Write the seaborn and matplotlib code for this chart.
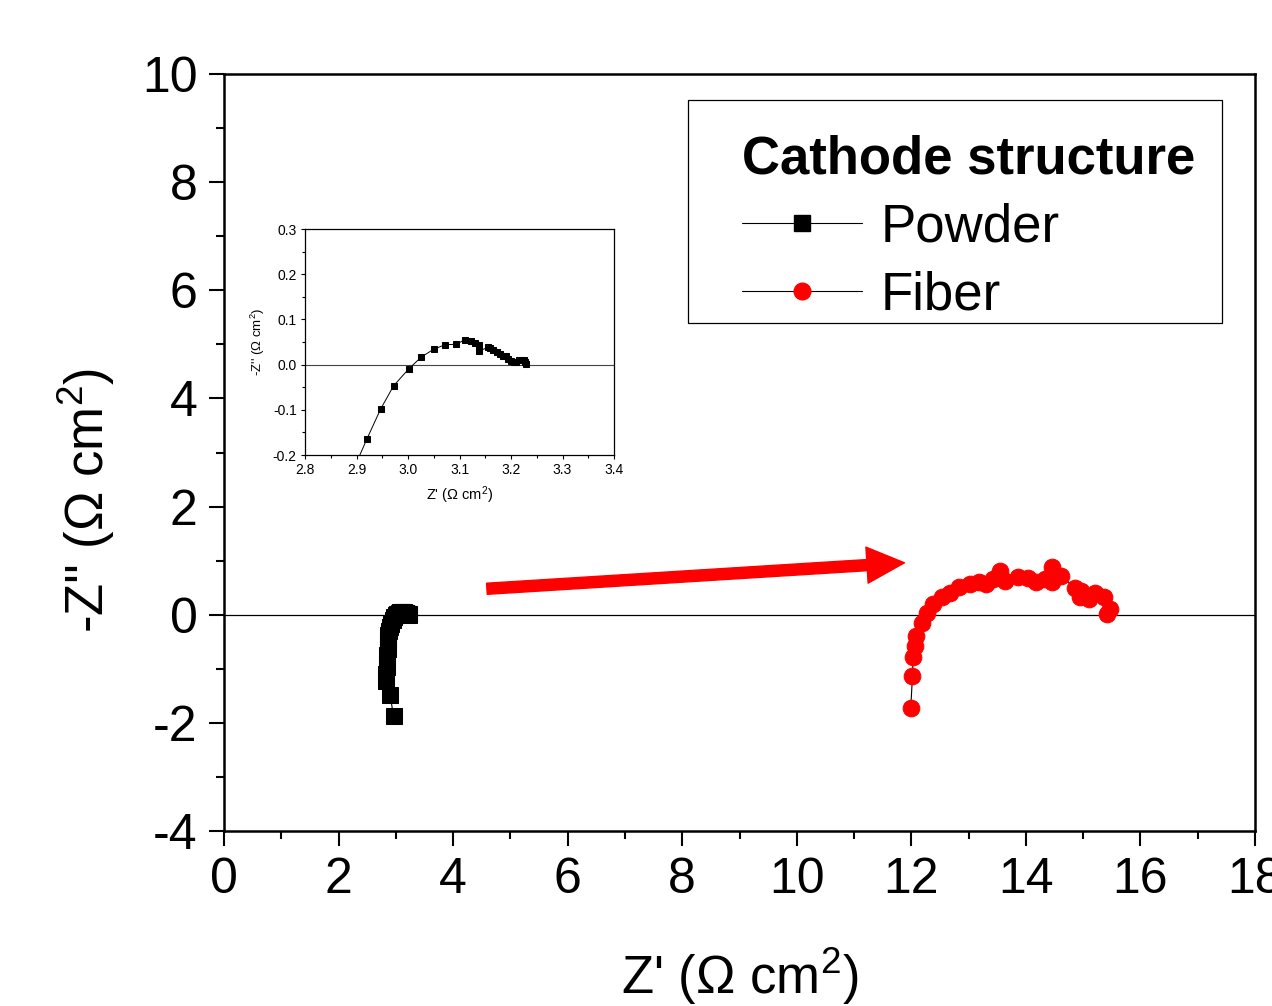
import numpy as np
import pandas as pd
import matplotlib
matplotlib.use("Agg")
import matplotlib.pyplot as plt
import seaborn as sns
from matplotlib.lines import Line2D
from matplotlib.ticker import MultipleLocator

# Powder cathode (Nyquist points, Z' and -Z'')
powder_x = [2.96, 2.90, 2.82, 2.83, 2.84, 2.845, 2.85, 2.855, 2.86, 2.865, 2.87, 2.88, 2.895,
            2.92, 2.947, 2.972, 3.001, 3.026, 3.05, 3.072, 3.094, 3.11, 3.122, 3.13, 3.138,
            3.138, 3.155, 3.16, 3.165, 3.172, 3.178, 3.185, 3.19, 3.195, 3.2, 3.205, 3.21,
            3.215, 3.22, 3.225, 3.228, 3.23]
powder_y = [-1.88, -1.48, -1.22, -1.1, -0.97, -0.85, -0.74, -0.64, -0.55, -0.46, -0.38, -0.3, -0.23,
            -0.165, -0.098, -0.047, -0.01, 0.017, 0.034, 0.044, 0.045, 0.055, 0.052, 0.047, 0.043,
            0.03, 0.038, 0.036, 0.032, 0.027, 0.024, 0.02, 0.018, 0.013, 0.009, 0.006, 0.006,
            0.01, 0.011, 0.01, 0.005, 0.002]

# Fiber cathode
fiber_x = [11.99, 12.02, 12.03, 12.06, 12.09, 12.18, 12.27, 12.38, 12.53, 12.67, 12.84, 13.02,
           13.19, 13.31, 13.43, 13.54, 13.63, 13.86, 14.03, 14.18, 14.33, 14.45, 14.45, 14.62,
           14.85, 14.97, 14.94, 15.11, 15.2, 15.37, 15.46, 15.41]
fiber_y = [-1.72, -1.13, -0.79, -0.58, -0.39, -0.15, 0.04, 0.2, 0.32, 0.41, 0.52, 0.57,
           0.6, 0.57, 0.66, 0.81, 0.63, 0.69, 0.68, 0.6, 0.66, 0.89, 0.6, 0.72,
           0.5, 0.44, 0.32, 0.29, 0.41, 0.32, 0.11, 0.02]

legend_title = "Cathode structure"
labels = ["Powder", "Fiber"]

powder = pd.DataFrame({"x": powder_x, "y": powder_y})
fiber = pd.DataFrame({"x": fiber_x, "y": fiber_y})

sns.set_theme(style="ticks")
plt.rcParams["font.family"] = ["Liberation Sans", "DejaVu Sans"]
plt.rcParams["mathtext.fontset"] = "custom"
plt.rcParams["mathtext.rm"] = "Liberation Sans"
plt.rcParams["mathtext.it"] = "Liberation Sans:italic"
plt.rcParams["axes.unicode_minus"] = False
for k in ["text.color", "axes.labelcolor", "xtick.color", "ytick.color", "axes.edgecolor"]:
    plt.rcParams[k] = "black"

fig = plt.figure(figsize=(12.72, 10.06), dpi=100)
ax = fig.add_axes([224 / 1272, 1 - 831 / 1006, 1031 / 1272, 757 / 1006])

ax.axhline(0, color="black", lw=0.9, zorder=1)
sns.lineplot(data=powder, x="x", y="y", sort=False, estimator=None, ax=ax,
             color="black", lw=0.8, marker="s", markersize=11,
             markerfacecolor="black", markeredgecolor="black", zorder=3)
sns.lineplot(data=fiber, x="x", y="y", sort=False, estimator=None, ax=ax,
             color="black", lw=0.8, marker="o", markersize=12,
             markerfacecolor="red", markeredgecolor="red", zorder=3)

ax.annotate("", xy=(11.88, 0.96), xytext=(4.59, 0.48),
            arrowprops=dict(arrowstyle="simple,head_length=2.7,head_width=2.6,tail_width=0.8",
                            mutation_scale=10, color="red", shrinkA=0, shrinkB=0))

ax.set_xlim(0, 18)
ax.set_ylim(-4, 10)
ax.xaxis.set_major_locator(MultipleLocator(2))
ax.xaxis.set_minor_locator(MultipleLocator(1))
ax.yaxis.set_major_locator(MultipleLocator(2))
ax.yaxis.set_minor_locator(MultipleLocator(1))
ax.tick_params(which="major", direction="out", length=11, width=1.5, labelsize=36, pad=8,
               top=False, right=False)
ax.tick_params(which="minor", direction="out", length=6, width=1.5, top=False, right=False)
for s in ax.spines.values():
    s.set_linewidth(1.8)
    s.set_color("black")

ax.set_xlabel("Z' ($\\Omega$ cm$^{2}$)", fontsize=38)
ax.set_ylabel("-Z'' ($\\Omega$ cm$^{2}$)", fontsize=38)
ax.xaxis.set_label_coords(0.5, -0.151)
ax.yaxis.set_label_coords(-0.104, 0.437)

# legend with a separate frame box
handles = [
    Line2D([], [], color="black", lw=0.8, marker="s", markersize=11,
           markerfacecolor="black", markeredgecolor="black"),
    Line2D([], [], color="black", lw=0.8, marker="o", markersize=12,
           markerfacecolor="red", markeredgecolor="red"),
]
leg = fig.legend(handles, labels, title=legend_title, loc="upper left",
                 bbox_to_anchor=(742 / 1272, 1 - 135 / 1006), frameon=False,
                 fontsize=38, title_fontproperties={"size": 38, "weight": "bold"},
                 handlelength=2.27, handletextpad=0.36, labelspacing=0.34,
                 borderpad=0, borderaxespad=0, alignment="left")
fig.add_artist(plt.Rectangle((688 / 1272, 1 - 323 / 1006), 534 / 1272, 223 / 1006,
                             transform=fig.transFigure, fill=False, ec="black", lw=0.9))

# inset
ax_in = fig.add_axes([305 / 1272, 1 - 455 / 1006, 309 / 1272, 226 / 1006])
ax_in.axhline(0, color="#444444", lw=0.8, zorder=1)
sns.lineplot(data=powder, x="x", y="y", sort=False, estimator=None, ax=ax_in,
             color="black", lw=0.7, marker="s", markersize=3.8,
             markerfacecolor="black", markeredgecolor="black", zorder=3)
ax_in.set_xlim(2.8, 3.4)
ax_in.set_ylim(-0.2, 0.3)
ax_in.xaxis.set_major_locator(MultipleLocator(0.1))
ax_in.xaxis.set_minor_locator(MultipleLocator(0.05))
ax_in.yaxis.set_major_locator(MultipleLocator(0.1))
ax_in.yaxis.set_minor_locator(MultipleLocator(0.05))
ax_in.xaxis.set_major_formatter(lambda v, p: f"{v:.1f}")
ax_in.yaxis.set_major_formatter(lambda v, p: f"{v:.1f}")
ax_in.tick_params(which="major", direction="out", length=3, width=0.8, labelsize=10, pad=3,
                  top=False, right=False)
ax_in.tick_params(which="minor", direction="out", length=2, width=0.8, top=False, right=False)
for s in ax_in.spines.values():
    s.set_linewidth(0.9)
    s.set_color("black")
ax_in.set_xlabel("Z' ($\\Omega$ cm$^{2}$)", fontsize=10.5, labelpad=5)
ax_in.set_ylabel("-Z'' ($\\Omega$ cm$^{2}$)", fontsize=9.5, labelpad=4)

fig.savefig("out.png", dpi=100)
